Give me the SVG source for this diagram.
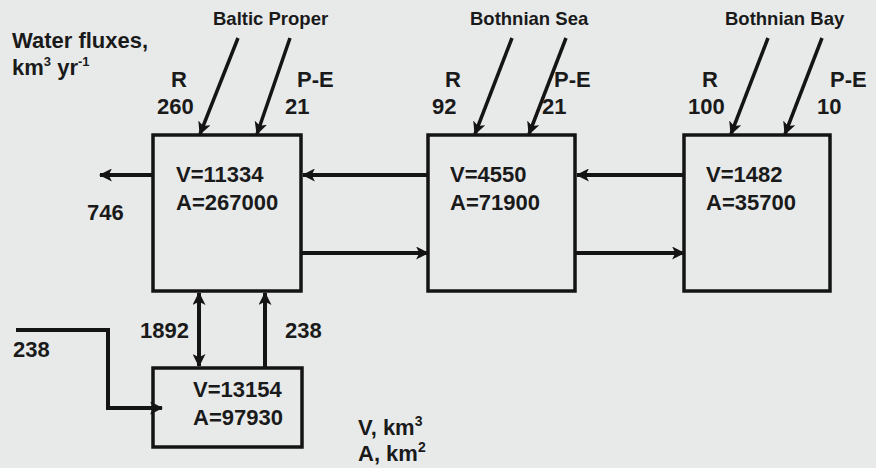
<svg xmlns="http://www.w3.org/2000/svg" width="876" height="468" viewBox="0 0 876 468">
<defs>
<style>
.bg{fill:#e8eaea}
.box{fill:none;stroke:#141414;stroke-width:3.5}
.t{font-family:"Liberation Sans",Arial,sans-serif;font-weight:bold;font-size:22px;fill:#1a1a1a}
.h{font-size:18.5px}
.c{fill:none;stroke:#141414;stroke-width:4}
.d{fill:none;stroke:#141414;stroke-width:3.5}
</style>
<marker id="ah" viewBox="0 0 12 12" refX="11" refY="6" markerWidth="13" markerHeight="13" markerUnits="userSpaceOnUse" orient="auto-start-reverse">
<path d="M0,0 L12,6 L0,12 L3,6 Z" fill="#141414"/>
</marker>
</defs>
<rect class="bg" x="0" y="0" width="876" height="468"/>
<g id="labels">
<text class="t" x="12" y="48">Water fluxes,</text>
<text class="t" x="12" y="75">km<tspan font-size="13" dy="-9">3</tspan><tspan dy="9"> yr</tspan><tspan font-size="13" dy="-9">-1</tspan></text>
<text class="t" x="358" y="435">V, km<tspan font-size="14" dy="-9">3</tspan></text>
<text class="t" x="358" y="461">A, km<tspan font-size="14" dy="-9">2</tspan></text>
</g>
<g id="baltic-proper">
<rect class="box" x="153" y="135" width="148" height="156"/>
<text class="t h" x="213" y="25">Baltic Proper</text>
<text class="t" x="171" y="87">R</text>
<text class="t" x="157" y="114">260</text>
<text class="t" x="297" y="87">P-E</text>
<text class="t" x="285" y="114">21</text>
<text class="t" x="176" y="182">V=11334</text>
<text class="t" x="176" y="210">A=267000</text>
</g>
<g id="bothnian-sea">
<rect class="box" x="428" y="135" width="147" height="156"/>
<text class="t h" x="470" y="25">Bothnian Sea</text>
<text class="t" x="445" y="87">R</text>
<text class="t" x="432" y="114">92</text>
<text class="t" x="554" y="87">P-E</text>
<text class="t" x="542" y="114">21</text>
<text class="t" x="450" y="182">V=4550</text>
<text class="t" x="450" y="210">A=71900</text>
</g>
<g id="bothnian-bay">
<rect class="box" x="684" y="135" width="146" height="156"/>
<text class="t h" x="725" y="25">Bothnian Bay</text>
<text class="t" x="702" y="87">R</text>
<text class="t" x="688" y="114">100</text>
<text class="t" x="830" y="87">P-E</text>
<text class="t" x="817" y="114">10</text>
<text class="t" x="706" y="182">V=1482</text>
<text class="t" x="706" y="210">A=35700</text>
</g>
<g id="deep-layer">
<rect class="box" x="153" y="368" width="149" height="79"/>
<text class="t" x="193" y="397">V=13154</text>
<text class="t" x="193" y="425">A=97930</text>
</g>
<g id="flux-labels">
<text class="t" x="87" y="220">746</text>
<text class="t" x="13" y="357">238</text>
<text class="t" x="140" y="338">1892</text>
<text class="t" x="285" y="338">238</text>
</g>
<g id="connectors">
<line class="d" x1="238" y1="38" x2="200" y2="134" marker-end="url(#ah)"/>
<line class="d" x1="290" y1="38" x2="257" y2="134" marker-end="url(#ah)"/>
<line class="d" x1="512" y1="38" x2="475" y2="134" marker-end="url(#ah)"/>
<line class="d" x1="566" y1="38" x2="529" y2="134" marker-end="url(#ah)"/>
<line class="d" x1="768" y1="38" x2="731" y2="134" marker-end="url(#ah)"/>
<line class="d" x1="822" y1="38" x2="785" y2="134" marker-end="url(#ah)"/>
<line class="c" x1="153" y1="175" x2="100" y2="175" marker-end="url(#ah)"/>
<line class="c" x1="428" y1="175" x2="303" y2="175" marker-end="url(#ah)"/>
<line class="c" x1="684" y1="175" x2="577" y2="175" marker-end="url(#ah)"/>
<line class="c" x1="301" y1="253" x2="428" y2="253" marker-end="url(#ah)"/>
<line class="c" x1="575" y1="253" x2="684" y2="253" marker-end="url(#ah)"/>
<line class="c" x1="199" y1="293" x2="199" y2="366" marker-start="url(#ah)" marker-end="url(#ah)"/>
<line class="c" x1="265" y1="368" x2="265" y2="293" marker-end="url(#ah)"/>
<polyline class="c" points="16,330 108,330 108,408 162,408" marker-end="url(#ah)"/>
</g>
</svg>
